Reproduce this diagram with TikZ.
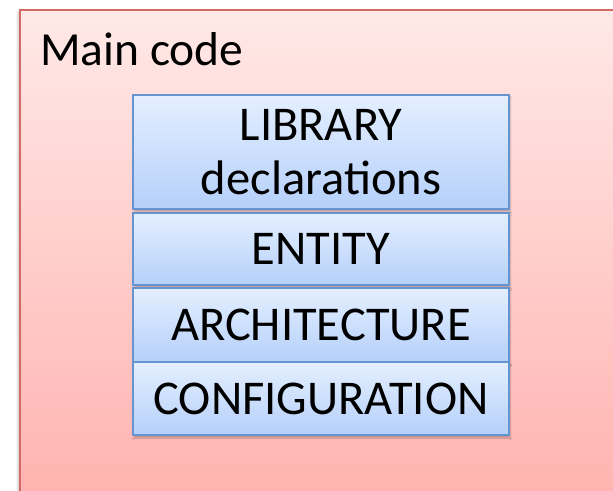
\documentclass[tikz,border=0pt]{standalone}
\usepackage{fontspec}
\setmainfont{Carlito}
\usetikzlibrary{shadows.blur}
\definecolor{outertop}{HTML}{FFE9E7}
\definecolor{outerbot}{HTML}{FFB2AF}
\definecolor{outerline}{HTML}{D46A65}
\definecolor{boxtop}{HTML}{E4EFFF}
\definecolor{boxbot}{HTML}{B5D0FA}
\definecolor{boxline}{HTML}{6595D0}
\tikzset{
  layer/.style={rectangle, draw=boxline, line width=2pt, top color=boxtop,
    bottom color=boxbot, minimum width=376pt, inner sep=0pt, anchor=north,
    align=center, font=\fontsize{48.5}{54}\selectfont,
    blur shadow={shadow xshift=1pt, shadow yshift=-3pt, shadow blur steps=6,
      shadow opacity=25}},
  frame/.style={rectangle, draw=outerline, line width=1.5pt, top color=outertop,
    bottom color=outerbot, anchor=north west, inner sep=0pt,
    blur shadow={shadow xshift=-2pt, shadow yshift=-2pt, shadow blur steps=5,
      shadow opacity=20}},
}
\begin{document}
\begin{tikzpicture}[x=1pt, y=-1pt]
\useasboundingbox (0,0) rectangle (613,490);
\clip (0,0) rectangle (613,490);
% outer container
\node[frame, minimum width=620pt, minimum height=500pt] (main) at (19,9) {};
\node[anchor=base west, font=\fontsize{47.5}{54}\selectfont, inner sep=0pt] (title) at (40,65) {Main code};
% stacked layers
\node[layer, minimum height=114pt] (lib) at (321,94) {LIBRARY\\declarations};
\node[layer, minimum height=72pt] (ent) at (321,212) {ENTITY};
\node[layer, minimum height=74pt] (arch) at (321,287) {ARCHITECTURE};
\node[layer, minimum height=73pt] (conf) at (321,361) {CONFIGURATION};
\end{tikzpicture}
\end{document}
